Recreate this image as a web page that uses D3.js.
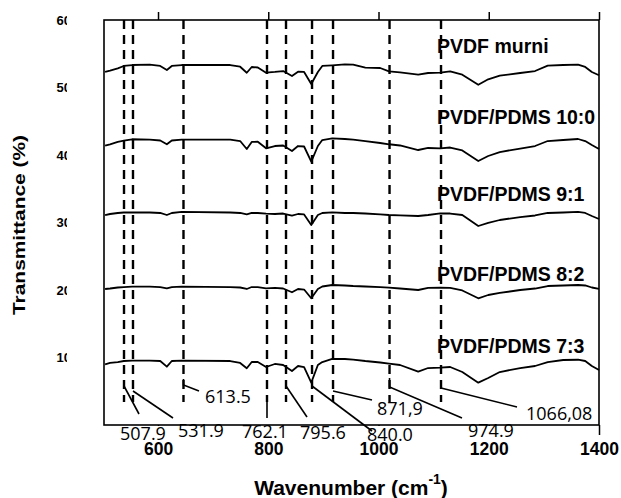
<!DOCTYPE html>
<html>
<head>
<meta charset="utf-8">
<script src="https://cdn.jsdelivr.net/npm/d3@7"></script>
<style>
  body { margin: 0; background: #fff; }
  svg { display: block; }
  .axis text { font-family: "Liberation Sans", Arial, sans-serif; font-weight: bold; font-size: 17.5px; fill: #000; }
  .axis line { stroke: #000; stroke-width: 1.5; }
  .bold { font-family: "Liberation Sans", Arial, sans-serif; font-weight: bold; fill: #000; }
  .peak { font-family: "Open Sans", sans-serif; font-size: 18px; fill: #000; }
</style>
</head>
<body>
<div id="chart"></div>
<script>
// wavenumber grid (cm-1) shared by all spectra
const wavenumber = [504, 513, 527, 538, 553, 585, 604, 616, 625, 643,
  731, 749, 761, 770, 781, 796, 812, 827, 843, 854,
  865, 878, 890, 898, 916, 939, 954, 976, 1003, 1019,
  1039, 1072, 1090, 1112, 1130, 1152, 1181, 1199, 1220, 1257,
  1284, 1307, 1335, 1362, 1375, 1387, 1400];

// transmittance (stacked)
const pvdfMurni = [52.30, 52.49, 52.84, 53.19, 53.33, 53.39, 53.19, 52.59, 53.19, 53.33,
  53.33, 53.08, 52.19, 53.04, 52.96, 52.19, 52.30, 52.44, 51.70, 52.34,
  52.30, 50.52, 52.30, 53.19, 53.29, 53.44, 53.38, 52.93, 52.89, 52.40,
  52.25, 51.90, 52.15, 52.19, 52.40, 51.90, 50.41, 51.21, 51.75, 52.15,
  52.44, 53.23, 53.33, 53.38, 53.04, 52.30, 51.81];
const pvdfPdms100 = [41.38, 41.56, 41.93, 42.12, 42.33, 42.27, 42.15, 41.59, 42.15, 42.27,
  42.27, 42.07, 40.89, 41.93, 41.97, 40.99, 41.33, 41.41, 40.59, 41.33,
  41.26, 39.01, 41.33, 42.22, 42.47, 42.37, 42.27, 42.07, 41.78, 41.59,
  41.41, 40.74, 41.04, 40.99, 41.11, 40.67, 39.11, 39.85, 40.44, 40.96,
  41.33, 42.07, 42.22, 42.37, 42.07, 41.48, 40.89];
const pvdfPdms91 = [31.11, 31.26, 31.41, 31.48, 31.51, 31.48, 31.41, 31.11, 31.41, 31.56,
  31.48, 31.41, 31.19, 31.41, 31.41, 31.30, 31.26, 31.33, 31.01, 31.26,
  31.19, 29.63, 31.11, 31.41, 31.51, 31.41, 31.41, 31.33, 31.19, 31.11,
  31.07, 30.96, 31.11, 31.36, 31.33, 31.11, 29.48, 29.93, 30.37, 30.81,
  31.04, 31.41, 31.48, 31.56, 31.41, 30.96, 30.52];
const pvdfPdms82 = [20.15, 20.22, 20.37, 20.44, 20.49, 20.49, 20.44, 20.25, 20.44, 20.49,
  20.44, 20.37, 20.15, 20.44, 20.44, 20.25, 20.30, 20.22, 19.66, 20.15,
  20.07, 18.77, 20.15, 20.52, 20.74, 20.67, 20.59, 20.52, 20.44, 20.34,
  20.22, 20.00, 20.30, 20.34, 20.30, 19.93, 18.77, 19.26, 19.56, 20.00,
  20.22, 20.59, 20.67, 20.74, 20.67, 20.37, 20.15];
const pvdfPdms73 = [8.99, 9.19, 9.33, 9.48, 9.53, 9.53, 9.48, 8.64, 9.48, 9.53,
  9.48, 9.19, 8.40, 9.33, 9.33, 8.59, 9.04, 8.89, 8.00, 8.74,
  8.59, 6.27, 8.89, 9.33, 9.78, 9.78, 9.70, 9.48, 9.26, 9.08,
  8.89, 7.90, 8.44, 8.49, 8.59, 7.85, 6.27, 6.96, 7.85, 8.44,
  8.74, 9.33, 9.63, 9.67, 9.48, 8.74, 8.15];

const sampleNames = ['PVDF murni', 'PVDF/PDMS 10:0', 'PVDF/PDMS 9:1', 'PVDF/PDMS 8:2', 'PVDF/PDMS 7:3'];
const seriesValues = [pvdfMurni, pvdfPdms100, pvdfPdms91, pvdfPdms82, pvdfPdms73];

// dashed peak markers: where they sit on the axis, and the text written for them
const peakPositions = [538.3, 554.6, 646.2, 797.7, 832.2, 879.4, 917.5, 1020.0, 1113.4];
const peakLabels = ['507.9', '531.9', '613.5', '762.1', '795.6', '840.0', '871,9', '974.9', '1066,08'];

const xTicks = [600, 800, 1000, 1200, 1400];
const yTicks = [10, 20, 30, 40, 50, 60];
const yTickLabels = ['10', '20', '30', '40', '50', '60'];

const width = 621, height = 498;
const margin = {top: 20, right: 22, bottom: 73, left: 104};

const x = d3.scaleLinear().domain([502, 1400]).range([margin.left, width - margin.right]);
const y = d3.scaleLinear().domain([0, 60]).range([height - margin.bottom, margin.top]);

const svg = d3.select('#chart').append('svg')
  .attr('width', width)
  .attr('height', height);

// y tick labels are cut off on the right in the original
svg.append('clipPath').attr('id', 'ylabclip')
  .append('rect').attr('x', 0).attr('y', 0).attr('width', 67).attr('height', height);

// top ticks (no labels)
svg.append('g')
  .attr('class', 'axis')
  .attr('transform', `translate(0,${margin.top})`)
  .call(d3.axisTop(x).tickValues(xTicks).tickSize(8).tickSizeOuter(0).tickFormat(''))
  .call(g => g.select('.domain').remove());

// bottom ticks
const xAxisG = svg.append('g')
  .attr('class', 'axis')
  .attr('transform', `translate(0,${height - margin.bottom})`)
  .call(d3.axisBottom(x).tickValues(xTicks).tickSize(10).tickSizeOuter(0).tickFormat(d3.format('d')))
  .call(g => g.select('.domain').remove())
  .call(g => g.selectAll('text').attr('y', 30).attr('dy', 0));

// frame
svg.append('rect')
  .attr('x', x.range()[0]).attr('y', y.range()[1])
  .attr('width', x.range()[1] - x.range()[0])
  .attr('height', y.range()[0] - y.range()[1])
  .attr('fill', 'none').attr('stroke', '#000').attr('stroke-width', 1.6);

// y labels
svg.append('g').attr('clip-path', 'url(#ylabclip)')
  .selectAll('text').data(yTicks).enter().append('text')
  .attr('class', 'bold')
  .attr('x', 56.5)
  .attr('y', d => y(d) + 4.6)
  .style('font-size', '13px')
  .text((d, i) => yTickLabels[i]);

// spectra
const line = d3.line()
  .x(d => x(d[0]))
  .y(d => y(d[1]));

svg.selectAll('.spectrum')
  .data(seriesValues)
  .enter().append('path')
  .attr('class', 'spectrum')
  .attr('d', vals => line(wavenumber.map((w, i) => [w, vals[i]])))
  .attr('fill', 'none')
  .attr('stroke', '#000')
  .attr('stroke-width', 1.8)
  .attr('stroke-linejoin', 'round');

// dashed peak lines
svg.selectAll('.peakline')
  .data(peakPositions)
  .enter().append('line')
  .attr('class', 'peakline')
  .attr('x1', d => x(d)).attr('x2', d => x(d))
  .attr('y1', margin.top).attr('y2', 402)
  .attr('stroke', '#000')
  .attr('stroke-width', 2.4)
  .attr('stroke-dasharray', '9,6');

// sample names
const nameBaselines = [52.5, 124, 201, 281, 353];
svg.selectAll('.name')
  .data(sampleNames)
  .enter().append('text')
  .attr('class', 'bold')
  .attr('x', 437)
  .attr('y', (d, i) => nameBaselines[i])
  .style('font-size', '19.5px')
  .text(d => d);

// peak label layout: text anchor and leader polyline (x of 0 = on the dashed line)
const peakLayout = [
  {tx: 120, ty: 440, box: true, lead: [[0, 386], [139, 414]]},
  {tx: 178, ty: 437, box: true, lead: [[0, 391], [173, 418]]},
  {tx: 205, ty: 403, box: false, lead: [[0, 379], [0, 385], [199, 391]]},
  {tx: 242, ty: 438, box: true, lead: [[0, 402], [0, 418]]},
  {tx: 300, ty: 439, box: true, lead: [[0, 386], [307, 417]]},
  {tx: 367, ty: 441, box: true, lead: [[0, 386], [372, 431]]},
  {tx: 377, ty: 415, box: false, lead: [[0, 391], [372, 400]]},
  {tx: 468, ty: 437, box: true, lead: [[0, 378], [0, 387], [462, 418]]},
  {tx: 526, ty: 420, box: false, lead: [[0, 388], [517, 407]]}
];

const peakG = svg.append('g');
peakLabels.forEach((lab, i) => {
  const L = peakLayout[i];
  const t = peakG.append('text')
    .attr('class', 'peak')
    .attr('x', L.tx).attr('y', L.ty)
    .text(lab);
  if (L.box) {
    // white text box hides the bottom tick behind it
    const b = t.node().getBBox();
    const top = y(0) + 1;
    peakG.insert('rect', 'text')
      .attr('x', b.x - 1).attr('y', top)
      .attr('width', b.width + 2).attr('height', L.ty + 2 - top)
      .attr('fill', '#fff');
  }
});

// tick labels on top of the boxes
xAxisG.raise();
xAxisG.selectAll('line').remove();
svg.append('g')
  .attr('class', 'axis')
  .attr('transform', `translate(0,${height - margin.bottom})`)
  .call(d3.axisBottom(x).tickValues(xTicks).tickSize(10).tickSizeOuter(0).tickFormat(''))
  .call(g => g.select('.domain').remove())
  .lower();

// leaders drawn last (they cross some labels)
peakLayout.forEach((L, i) => {
  const px = x(peakPositions[i]);
  const pts = L.lead.map(p => [p[0] === 0 ? px : p[0], p[1]]);
  svg.append('path')
    .attr('d', d3.line()(pts))
    .attr('fill', 'none')
    .attr('stroke', '#000')
    .attr('stroke-width', 1.6);
});

// axis titles
svg.append('text')
  .attr('class', 'bold')
  .attr('transform', 'translate(25,225) rotate(-90)')
  .attr('text-anchor', 'middle')
  .attr('textLength', 180)
  .attr('lengthAdjust', 'spacingAndGlyphs')
  .style('font-size', '17px')
  .text('Transmittance (%)');

const xt = svg.append('text')
  .attr('class', 'bold')
  .attr('x', 351).attr('y', 495)
  .attr('text-anchor', 'middle')
  .style('font-size', '21px');
xt.append('tspan').text('Wavenumber (cm');
xt.append('tspan').attr('dy', -11).style('font-size', '14px').text('-1');
xt.append('tspan').attr('dy', 11).text(')');
</script>
</body>
</html>
